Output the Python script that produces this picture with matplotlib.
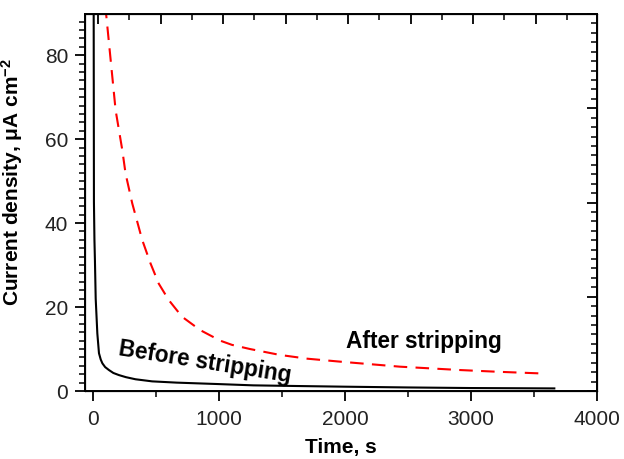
import numpy as np
import matplotlib
matplotlib.use("Agg")
import matplotlib.pyplot as plt
from matplotlib.ticker import MultipleLocator, FixedLocator, NullFormatter

plt.rcParams['font.family'] = ['Liberation Sans', 'DejaVu Sans']
plt.rcParams['mathtext.fontset'] = 'custom'
plt.rcParams['mathtext.rm'] = 'Liberation Sans'
plt.rcParams['mathtext.bf'] = 'Liberation Sans:bold'
plt.rcParams['mathtext.default'] = 'bf'

# chronoamperometry, before stripping (solid)
t_before = [1, 2, 4, 6, 10, 14, 20, 33, 46, 60, 73, 95, 125, 160, 204, 260, 336,
            468, 662, 980, 1270, 1600, 2000, 2500, 3000, 3400, 3660]
j_before = [300, 200, 90, 45, 36, 31, 22, 13.7, 9.0, 7.5, 6.6, 5.7, 5.0, 4.3, 3.8,
            3.3, 2.8, 2.3, 2.0, 1.67, 1.35, 1.2, 1.03, 0.85, 0.71, 0.66, 0.62]

# after stripping (dashed)
t_after = [95, 107, 178, 231, 257, 310, 389, 455, 520, 599, 705, 850, 1008,
           1101, 1245, 1481, 1700, 1958, 2434, 2910, 3200, 3545]
j_after = [92, 88.5, 66.9, 57.4, 51.8, 44.7, 36.0, 30.4, 25.6, 21.7, 17.7, 14.5,
           12.0, 11.0, 10.0, 8.6, 7.7, 7.0, 5.8, 5.0, 4.6, 4.2]

fig = plt.figure(figsize=(6.24, 4.59), dpi=100)
ax = fig.add_axes([0.1362, 0.1481, 0.8208, 0.8214])

ax.plot(t_before, j_before, color='black', lw=1.5, solid_joinstyle='round')
ax.plot(t_after, j_after, color='#ff0000', lw=1.5, dashes=(6.5, 4))

ax.set_xlim(-65, 4000)
ax.set_ylim(0, 89.8)

ax.xaxis.set_major_locator(MultipleLocator(1000))
ax.xaxis.set_minor_locator(MultipleLocator(500))
ax.yaxis.set_major_locator(MultipleLocator(20))
ax.yaxis.set_minor_locator(MultipleLocator(2))

ax.tick_params(which='major', direction='out', length=7, width=1.3,
               labelsize=15, pad=5, colors='black', labelcolor='#222222')
ax.tick_params(which='minor', direction='out', length=4, width=1.1)
ax.tick_params(axis='x', which='major', pad=7)
for s in ax.spines.values():
    s.set_linewidth(1.4)

# mirror axes with their own tick spacing, ticks pointing in
top = ax.twiny()
top.set_xlim(ax.get_xlim())
top.xaxis.set_major_locator(FixedLocator(np.arange(40, 4000, 496)))
top.xaxis.set_minor_locator(FixedLocator(np.arange(288, 4000, 496)))
top.xaxis.set_major_formatter(NullFormatter())
top.tick_params(which='major', direction='in', length=7, width=1.3)
top.tick_params(which='minor', direction='in', length=4, width=1.1)

right = ax.twinx()
right.set_ylim(ax.get_ylim())
right.yaxis.set_major_locator(FixedLocator(np.arange(0, 90, 22.45)))
right.yaxis.set_minor_locator(FixedLocator(np.arange(0, 90, 2.245)))
right.yaxis.set_major_formatter(NullFormatter())
right.tick_params(which='major', direction='in', length=7, width=1.3)
right.tick_params(which='minor', direction='in', length=4, width=1.1)

ax.set_xlabel('Time, s', fontsize=15, fontweight='bold')
ax.xaxis.set_label_coords(0.5, -0.125)
ax.set_ylabel('Current density, μA cm$^{-2}$', fontsize=15, fontweight='bold')
ax.yaxis.set_label_coords(-0.118, 0.555)

ax.text(889, 6.8, 'Before stripping', fontsize=16.3, fontweight='bold',
        rotation=-9, rotation_mode='anchor', ha='center', va='center')
ax.text(2628, 10.2, 'After stripping', fontsize=16.3, fontweight='bold',
        ha='center', va='baseline')

fig.savefig('out.png', dpi=100)
